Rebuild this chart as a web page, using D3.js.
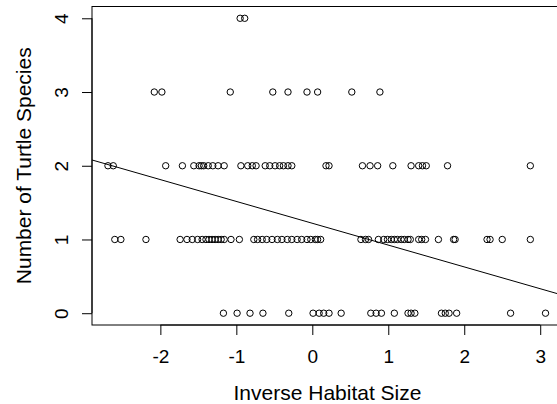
<!DOCTYPE html>
<html>
<head>
<meta charset="utf-8">
<script src="https://cdn.jsdelivr.net/npm/d3@7"></script>
<style>
  html, body { margin: 0; padding: 0; background: #fff; }
  svg { display: block; font-family: "Liberation Sans", Arial, sans-serif; }
  .pt { fill: none; stroke: #000; stroke-width: 1; }
  .fit { stroke: #000; stroke-width: 1; fill: none; }
  .tick-lab { font-size: 19px; fill: #000; }
  .ttl { font-size: 21px; fill: #000; }
</style>
</head>
<body>
<div id="chart"></div>
<script>
// inverse habitat size of each site, grouped by the number of turtle species found there
const sites0 = [-1.17, -0.99, -0.82, -0.65, -0.31, 0.01, 0.09, 0.15, 0.22, 0.38, 0.77, 0.84, 0.91, 1.08, 1.26, 1.30, 1.35, 1.70, 1.75, 1.80, 1.90, 2.61, 3.07];
const sites1 = [-2.60, -2.52, -2.19, -1.74, -1.65, -1.58, -1.51, -1.45, -1.40, -1.36, -1.32, -1.28, -1.24, -1.20, -1.16, -1.07, -0.96,
  -0.77, -0.72, -0.66, -0.60, -0.53, -0.46, -0.40, -0.33, -0.27, -0.20, -0.14, -0.07, -0.02, 0.04, 0.07, 0.11,
  0.64, 0.70, 0.74, 0.87, 0.94, 0.99, 1.04, 1.08, 1.12, 1.17, 1.21, 1.26, 1.29, 1.40, 1.44, 1.49, 1.66, 1.86, 1.88, 2.30, 2.34, 2.50, 2.87];
const sites2 = [-2.69, -2.62, -1.93, -1.71, -1.56, -1.49, -1.46, -1.43, -1.37, -1.31, -1.24, -1.16, -0.94, -0.85, -0.79, -0.74,
  -0.62, -0.56, -0.49, -0.43, -0.38, -0.32, -0.27, 0.18, 0.22, 0.66, 0.76, 0.86, 1.06, 1.30, 1.40, 1.45, 1.50, 1.78, 2.87];
const sites3 = [-2.08, -1.98, -1.08, -0.52, -0.32, -0.07, 0.07, 0.52, 0.89];
const sites4 = [-0.95, -0.89];
const speciesCounts = [0, 1, 2, 3, 4];
const xTicks = [-2, -1, 0, 1, 2, 3];
const yTicks = [0, 1, 2, 3, 4];
const fitIntercept = 1.22, fitSlope = -0.296;

const W = 557, H = 404;
const plot = { left: 92, top: 6.5, right: 563, bottom: 325 };
const points = [sites0, sites1, sites2, sites3, sites4].flatMap((arr, i) => arr.map(x => ({ x, y: speciesCounts[i] })));
const plain = d => String(d); // R prints a hyphen, not d3's unicode minus

const svg = d3.select("#chart").append("svg").attr("width", W).attr("height", H);
const x = d3.scaleLinear().domain([-2.9, 3.3]).range([plot.left, plot.right]);
const y = d3.scaleLinear().domain([-0.16, 4.16]).range([plot.bottom, plot.top]);

svg.append("clipPath").attr("id", "clip").append("rect")
  .attr("x", plot.left).attr("y", plot.top).attr("width", plot.right - plot.left).attr("height", plot.bottom - plot.top);

// box round the plot region
svg.append("rect").attr("x", plot.left).attr("y", plot.top).attr("width", plot.right - plot.left).attr("height", plot.bottom - plot.top)
  .attr("fill", "none").attr("stroke", "#000").attr("stroke-width", 1);

// axes, R style: line spans first to last tick, labels below / rotated at left
const xAxis = svg.append("g").attr("transform", `translate(0,${plot.bottom})`)
  .call(d3.axisBottom(x).tickValues(xTicks).tickSize(10).tickPadding(10).tickFormat(plain));
xAxis.select(".domain").attr("d", `M${x(xTicks[0])},0H${x(xTicks[xTicks.length - 1])}`);
xAxis.selectAll("text").attr("class", "tick-lab").attr("font-family", null).attr("font-size", null).attr("dy", "0.93em");

const yAxis = svg.append("g").attr("transform", `translate(${plot.left},0)`)
  .call(d3.axisLeft(y).tickValues(yTicks).tickSize(10).tickFormat(plain));
yAxis.select(".domain").attr("d", `M0,${y(yTicks[0])}V${y(yTicks[yTicks.length - 1])}`);
yAxis.selectAll("text").attr("class", "tick-lab").attr("font-family", null).attr("font-size", null)
  .attr("x", null).attr("dy", null).attr("text-anchor", "middle")
  .attr("transform", "translate(-24,0) rotate(-90)");
svg.selectAll(".tick line, .domain").attr("stroke", "#000").attr("stroke-width", 1);

svg.append("line").attr("class", "fit").attr("clip-path", "url(#clip)")
  .attr("x1", x(-2.9)).attr("y1", y(fitIntercept + fitSlope * -2.9))
  .attr("x2", x(3.3)).attr("y2", y(fitIntercept + fitSlope * 3.3));

svg.append("g").selectAll("circle").data(points).join("circle").attr("class", "pt")
  .attr("cx", d => x(d.x)).attr("cy", d => y(d.y)).attr("r", 3.2);

svg.append("text").attr("class", "ttl").attr("x", (plot.left + plot.right) / 2).attr("y", 400)
  .attr("text-anchor", "middle").text("Inverse Habitat Size");
svg.append("text").attr("class", "ttl").attr("text-anchor", "middle")
  .attr("transform", `translate(31,${(plot.top + plot.bottom) / 2}) rotate(-90)`).text("Number of Turtle Species");
</script>
</body>
</html>
